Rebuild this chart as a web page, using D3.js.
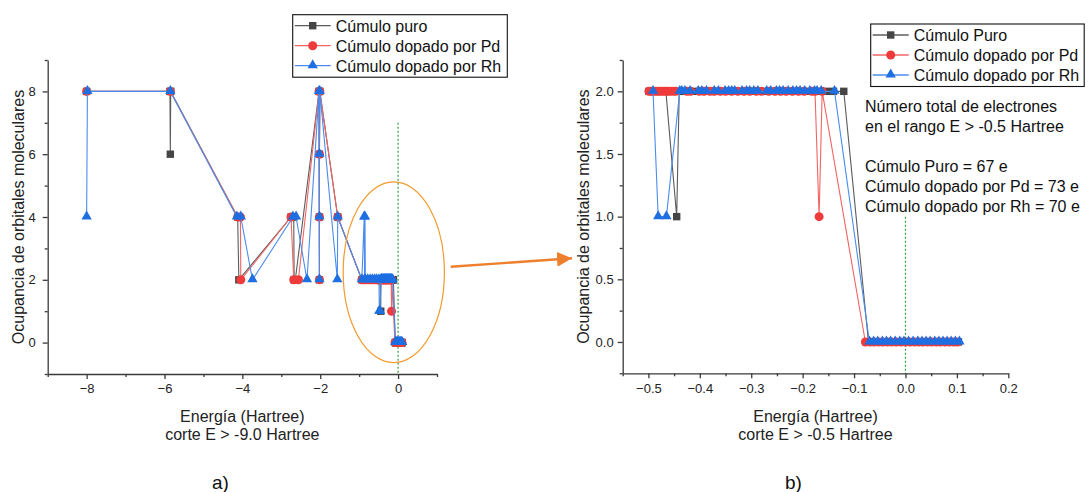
<!DOCTYPE html>
<html>
<head>
<meta charset="utf-8">
<script src="https://cdnjs.cloudflare.com/ajax/libs/d3/7.8.5/d3.min.js"></script>
<style>
  body { margin: 0; background: #fff; }
  svg { display: block; font-family: "Liberation Sans", Arial, sans-serif; }
</style>
</head>
<body>
<svg></svg>
<script>

// series names, as in each legend
const namesA = ['Cúmulo puro', 'Cúmulo dopado por Pd', 'Cúmulo dopado por Rh'];
const namesB = ['Cúmulo Puro', 'Cúmulo dopado por Pd', 'Cúmulo dopado por Rh'];

// [energy (Hartree), occupancy] for E > -0.5  (panel b, also part of panel a)
const puroTop = [
  [-0.499,2],[-0.492,2],[-0.486,2],[-0.478,2],[-0.471,2],[-0.466,2],[-0.445,1],[-0.440,2],
  [-0.432,2],[-0.421,2],[-0.408,2],[-0.395,2],[-0.386,2],[-0.371,2],[-0.358,2],[-0.345,2],
  [-0.333,2],[-0.320,2],[-0.309,2],[-0.297,2],[-0.285,2],[-0.271,2],[-0.258,2],[-0.246,2],
  [-0.235,2],[-0.224,2],[-0.213,2],[-0.201,2],[-0.190,2],[-0.178,2],[-0.168,2],[-0.154,2],
  [-0.140,2],[-0.120,2],
  [-0.072,0],[-0.064,0],[-0.055,0],[-0.047,0],[-0.038,0],[-0.030,0],[-0.022,0],[-0.012,0],
  [-0.004,0],[0.005,0],[0.014,0],[0.022,0],[0.030,0],[0.038,0],[0.046,0],[0.054,0],
  [0.063,0],[0.071,0],[0.080,0],[0.088,0],[0.095,0],[0.103,0]
];
const pdTop = [
  [-0.499,2],[-0.495,2],[-0.491,2],[-0.487,2],[-0.482,2],[-0.478,2],[-0.473,2],[-0.468,2],
  [-0.463,2],[-0.458,2],[-0.452,2],[-0.447,2],[-0.425,2],[-0.418,2],[-0.401,2],[-0.392,2],
  [-0.380,2],[-0.372,2],[-0.360,2],[-0.350,2],[-0.338,2],[-0.326,2],[-0.314,2],[-0.303,2],
  [-0.290,2],[-0.280,2],[-0.266,2],[-0.254,2],[-0.243,2],[-0.232,2],[-0.220,2],[-0.208,2],
  [-0.197,2],[-0.182,2],[-0.176,2],[-0.168,1],[-0.162,2],
  [-0.078,0],[-0.069,0],[-0.061,0],[-0.052,0],[-0.044,0],[-0.035,0],[-0.027,0],[-0.018,0],
  [-0.009,0],[0.000,0],[0.009,0],[0.018,0],[0.026,0],[0.034,0],[0.043,0],[0.051,0],
  [0.060,0],[0.068,0],[0.077,0],[0.085,0],[0.094,0],[0.101,0]
];
const rhTop = [
  [-0.491,2],[-0.481,1],[-0.465,1],[-0.439,2],[-0.435,2],[-0.429,2],[-0.419,2],[-0.403,2],
  [-0.396,2],[-0.387,2],[-0.372,2],[-0.364,2],[-0.351,2],[-0.344,2],[-0.338,2],[-0.332,2],
  [-0.318,2],[-0.309,2],[-0.303,2],[-0.295,2],[-0.287,2],[-0.270,2],[-0.262,2],[-0.251,2],
  [-0.245,2],[-0.238,2],[-0.228,2],[-0.219,2],[-0.212,2],[-0.205,2],[-0.196,2],[-0.186,2],
  [-0.177,2],[-0.172,2],[-0.164,2],[-0.138,2],
  [-0.070,0],[-0.062,0],[-0.054,0],[-0.045,0],[-0.037,0],[-0.029,0],[-0.020,0],[-0.011,0],
  [-0.003,0],[0.006,0],[0.015,0],[0.024,0],[0.032,0],[0.040,0],[0.048,0],[0.057,0],
  [0.065,0],[0.073,0],[0.081,0],[0.089,0],[0.097,0],[0.105,0]
];

// [energy, occupancy] for the deeper levels, only in panel a
const puroDeep = [
  [-8.00,8],[-5.86,8],[-5.85,6],[-5.84,8],[-4.12,4],[-4.09,2],[-2.75,4],[-2.68,4],[-2.67,2],
  [-2.64,2],[-2.03,8],[-2.02,2],[-2.02,4],[-2.02,6],[-2.01,8],[-1.55,4],[-0.93,2],[-0.86,2],
  [-0.80,2],[-0.74,2],[-0.68,2],[-0.62,2],[-0.56,2]
];
const pdDeep = [
  [-8.00,8],[-5.85,8],[-4.12,4],[-4.05,4],[-4.04,2],[-2.75,4],[-2.68,2],[-2.56,2],[-2.03,8],
  [-2.02,2],[-2.02,4],[-2.02,6],[-2.01,8],[-1.55,4],[-0.93,2],[-0.88,2],[-0.83,2],[-0.76,2],
  [-0.70,2],[-0.64,2],[-0.58,2],[-0.53,2]
];
const rhDeep = [
  [-8.00,4],[-7.98,8],[-5.85,8],[-4.14,4],[-4.04,4],[-3.74,2],[-2.70,4],[-2.62,4],[-2.34,2],
  [-2.03,8],[-2.02,2],[-2.02,4],[-2.02,6],[-2.01,8],[-1.56,2],[-1.55,4],[-0.93,2],[-0.87,4],
  [-0.86,2],[-0.85,4],[-0.84,2],[-0.78,2],[-0.72,2],[-0.66,2],[-0.60,2],[-0.55,2]
];

// ticks
const xTicksA = [-8, -6, -4, -2, 0];
const xMinorA = [-9, -7, -5, -3, -1, 1];
const yTicksA = [0, 2, 4, 6, 8];
const yMinorA = [-1, 1, 3, 5, 7, 9];
const xTicksB = [-0.5, -0.4, -0.3, -0.2, -0.1, 0.0, 0.1, 0.2];
const xMinorB = [-0.55, -0.45, -0.35, -0.25, -0.15, -0.05, 0.05, 0.15];
const yTicksB = [0, 0.5, 1.0, 1.5, 2.0];
const yMinorB = [-0.25, 0.25, 0.75, 1.25, 1.75, 2.25];

const noteB = ['Número total de electrones', 'en el rango E > -0.5 Hartree', '',
               'Cúmulo Puro = 67 e', 'Cúmulo dopado por Pd = 73 e', 'Cúmulo dopado por Rh = 70 e'];

//--------------STYLE---------------------------------------
const styles = [
  {line: '#5c5c5c', fill: '#454545', shape: 'square'},
  {line: '#f26464', fill: '#ef3b3b', shape: 'circle'},
  {line: '#4a8cee', fill: '#1d6fe2', shape: 'triangle'}
];
const FONT = '"Liberation Sans", Arial, sans-serif';

const svg = d3.select('svg')
    .attr('width', 1089)
    .attr('height', 492);

svg.append('defs').append('marker')
    .attr('id', 'arrow')
    .attr('viewBox', '0 0 10 10')
    .attr('refX', 10).attr('refY', 5)
    .attr('markerUnits', 'userSpaceOnUse')
    .attr('markerWidth', 15).attr('markerHeight', 15)
    .attr('orient', 'auto')
  .append('path')
    .attr('d', 'M0,0L10,5L0,10Z')
    .attr('fill', '#ee7f2d');

function drawMarkers(g, pts, st, x, y) {
  if (st.shape === 'square') {
    g.selectAll(null).data(pts).enter().append('rect')
      .attr('x', d => x(d[0]) - 3.7).attr('y', d => y(d[1]) - 3.7)
      .attr('width', 7.4).attr('height', 7.4)
      .attr('fill', st.fill);
  } else if (st.shape === 'circle') {
    g.selectAll(null).data(pts).enter().append('circle')
      .attr('cx', d => x(d[0])).attr('cy', d => y(d[1]))
      .attr('r', 4.5)
      .attr('fill', st.fill);
  } else {
    const tri = d3.symbol(d3.symbolTriangle, 46)();
    g.selectAll(null).data(pts).enter().append('path')
      .attr('d', tri)
      .attr('transform', d => `translate(${x(d[0])},${y(d[1]) - 0.5})`)
      .attr('fill', st.fill);
  }
}

//--------------PANEL---------------------------------------
function panel(o) {
  const x = d3.scaleLinear().domain(o.xDomain).range(o.xRange);
  const y = d3.scaleLinear().domain(o.yDomain).range(o.yRange);
  const g = svg.append('g');

  const axX = g.append('g')
      .attr('transform', `translate(0,${o.yRange[0]})`)
      .call(d3.axisBottom(x).tickValues(o.xTicks).tickSize(5).tickSizeOuter(0)
              .tickPadding(5).tickFormat(o.xFmt));
  g.append('g')
      .attr('transform', `translate(0,${o.yRange[0]})`)
      .call(d3.axisBottom(x).tickValues(o.xMinor).tickSize(3).tickFormat(''))
      .select('.domain').remove();

  const axY = g.append('g')
      .attr('transform', `translate(${o.xRange[0]},0)`)
      .call(d3.axisLeft(y).tickValues(o.yTicks).tickSize(5).tickSizeOuter(0)
              .tickPadding(o.yPad).tickFormat(o.yFmt));
  g.append('g')
      .attr('transform', `translate(${o.xRange[0]},0)`)
      .call(d3.axisLeft(y).tickValues(o.yMinor).tickSize(3).tickFormat(''))
      .select('.domain').remove();

  g.selectAll('.tick line, .domain').attr('stroke', '#3a3a3a').attr('stroke-width', 1.3);
  g.selectAll('.tick text').attr('fill', '#222');
  [axX, axY].forEach(a => a.attr('font-size', 13).attr('font-family', FONT));

  // Fermi guide
  g.append('line')
      .attr('x1', x(0)).attr('x2', x(0))
      .attr('y1', y(o.guideTop)).attr('y2', y(o.yDomain[0]))
      .attr('stroke', '#2e9e3a').attr('stroke-width', 1.2)
      .attr('stroke-dasharray', '2,2');

  const line = d3.line().x(d => x(d[0])).y(d => y(d[1]));
  o.series.forEach((pts, i) => {
    const st = styles[i];
    g.append('path').datum(pts)
      .attr('fill', 'none')
      .attr('stroke', st.line)
      .attr('stroke-width', 1.1)
      .attr('stroke-linejoin', 'round')
      .attr('d', line);
    drawMarkers(g.append('g'), pts, st, x, y);
  });

  const cx = (o.xRange[0] + o.xRange[1]) / 2;
  g.append('text').attr('x', cx).attr('y', 422)
      .attr('text-anchor', 'middle').attr('font-size', 16).attr('fill', '#222')
      .text('Energía (Hartree)');
  g.append('text').attr('x', cx).attr('y', 440)
      .attr('text-anchor', 'middle').attr('font-size', 16).attr('fill', '#222')
      .text(o.cut);
  g.append('text')
      .attr('transform', `translate(${o.yTitleX},${(o.yRange[0] + o.yRange[1]) / 2}) rotate(-90)`)
      .attr('text-anchor', 'middle').attr('font-size', 16).attr('fill', '#222')
      .text('Ocupancia de orbitales moleculares');
  g.append('text').attr('x', cx - 22).attr('y', 489)
      .attr('text-anchor', 'middle').attr('font-size', 19).attr('fill', '#111')
      .text(o.tag);

  // legend
  const lg = g.append('g').attr('transform', `translate(${o.legend[0]},${o.legend[1]})`);
  lg.append('rect').attr('width', o.legend[2]).attr('height', 62.5)
      .attr('fill', '#fff').attr('stroke', '#111').attr('stroke-width', 1.1);
  o.names.forEach((n, i) => {
    const ry = 11 + i * 20;
    lg.append('line').attr('x1', 2).attr('x2', 38).attr('y1', ry).attr('y2', ry)
      .attr('stroke', styles[i].line).attr('stroke-width', 1.3);
    drawMarkers(lg.append('g'), [[20, ry]], styles[i], v => v, v => v);
    lg.append('text').attr('x', 43).attr('y', ry + 6)
      .attr('font-size', 16).attr('fill', '#111').text(n);
  });

  return {x, y, g};
}

//--------------DRAW----------------------------------------
const a = panel({
  xDomain: [-9, 1], xRange: [47.7, 437], yDomain: [-1, 9], yRange: [374, 60],
  xTicks: xTicksA, xMinor: xMinorA, yTicks: yTicksA, yMinor: yMinorA,
  xFmt: d3.format('d'), yFmt: d3.format('d'), yPad: 7, guideTop: 7,
  series: [puroDeep.concat(puroTop), pdDeep.concat(pdTop), rhDeep.concat(rhTop)],
  names: namesA, legend: [292.7, 14.7, 214.6],
  cut: 'corte E > -9.0 Hartree', yTitleX: 24, tag: 'a)'
});

const b = panel({
  xDomain: [-0.55, 0.2], xRange: [622.7, 1008.3], yDomain: [-0.25, 2.25], yRange: [373.3, 60],
  xTicks: xTicksB, xMinor: xMinorB, yTicks: yTicksB, yMinor: yMinorB,
  xFmt: d3.format('.1f'), yFmt: d3.format('.1f'), yPad: 4, guideTop: 1.0,
  series: [puroTop, pdTop, rhTop],
  names: namesB, legend: [870.7, 24, 213.5],
  cut: 'corte E > -0.5 Hartree', yTitleX: 589, tag: 'b)'
});

// highlighted region in a) and arrow to b)
a.g.append('ellipse')
    .attr('cx', a.x(-0.11)).attr('cy', a.y(2.24))
    .attr('rx', a.x(1.3) - a.x(0)).attr('ry', a.y(0) - a.y(2.88))
    .attr('fill', 'none').attr('stroke', '#f39a2c').attr('stroke-width', 1.2);

svg.append('line')
    .attr('x1', 450.7).attr('y1', 266.7).attr('x2', 572).attr('y2', 258.3)
    .attr('stroke', '#ee7f2d').attr('stroke-width', 2.4)
    .attr('marker-end', 'url(#arrow)');

b.g.selectAll(null).data(noteB).enter().append('text')
    .attr('x', 865).attr('y', (d, i) => 112 + i * 20)
    .attr('font-size', 16).attr('fill', '#111')
    .text(d => d);

</script>
</body>
</html>
